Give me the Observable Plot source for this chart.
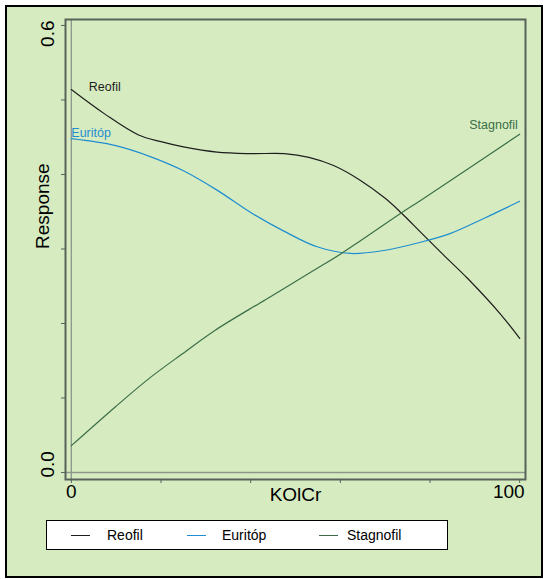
<!DOCTYPE html>
<html>
<head>
<meta charset="utf-8">
<script src="https://cdn.jsdelivr.net/npm/d3@7"></script>
<script src="https://cdn.jsdelivr.net/npm/@observablehq/plot@0.6"></script>
<style>
  html, body { margin: 0; padding: 0; background: #ffffff; }
  #wrap { position: relative; width: 544px; height: 579px; font-family: "Liberation Sans", Arial, sans-serif; }
  #panel { position: absolute; left: 5px; top: 5px; width: 538px; height: 573px; box-sizing: border-box; border: 2px solid #000; background: #d6ecc0; }
  #chart { position: absolute; left: 0; top: 0; }
  #legend { position: absolute; left: 46px; top: 520px; width: 402px; height: 30px; box-sizing: border-box; border: 1.5px solid #000; background: #fff; }
  .lg-line { position: absolute; top: 14px; width: 19px; height: 0; border-top: 1.2px solid #000; }
  .lg-text { position: absolute; top: 6px; font-size: 14px; line-height: 16px; color: #000; }
</style>
</head>
<body>
<div id="wrap">
  <div id="panel"></div>
  <div id="chart"></div>
  <div id="legend"></div>
</div>
<script>
// ---- data ----
const seriesNames = ["Reofil", "Euritóp", "Stagnofil"];
const seriesColors = ["#1e1e1e", "#1f8dd0", "#3b6e48"];

const reofilX = [0, 7.5, 15, 20, 25, 32.5, 40, 47.5, 53, 58.5, 64.5, 70, 73.5, 78, 83, 88.3, 95.8, 100];
const reofilY = [0.514, 0.481, 0.453, 0.444, 0.437, 0.430, 0.428, 0.428, 0.423, 0.412, 0.392, 0.368, 0.349, 0.322, 0.292, 0.261, 0.212, 0.180];

const euritopX = [0, 9.7, 17.6, 25, 32.5, 40, 47.4, 54.8, 62.3, 69.7, 77.9, 84.6, 92, 100];
const euritopY = [0.448, 0.439, 0.424, 0.405, 0.379, 0.349, 0.324, 0.303, 0.294, 0.298, 0.309, 0.321, 0.341, 0.364];

const stagnofilX = [0, 9.8, 17.3, 24.7, 32.1, 43.3, 54.3, 60, 64.5, 73.5, 77.9, 100];
const stagnofilY = [0.036, 0.088, 0.126, 0.159, 0.191, 0.232, 0.272, 0.293, 0.311, 0.348, 0.365, 0.454];

const yTicks = [0, 0.1, 0.2, 0.3, 0.4, 0.5, 0.6];
const yTickLabels = [0.0, 0.6];
const xTicks = [0, 20, 40, 60, 80, 100];
const xTickLabels = [0, 100];
const xLabel = "KOlCr";
const yLabel = "Response";

const curveLabelsStart = [
  {name: "Reofil", x: 3.9, y: 0.518},
  {name: "Euritóp", x: 0, y: 0.456}
];
const curveLabelsEnd = [
  {name: "Stagnofil", x: 99.6, y: 0.466}
];

// ---- build table ----
const rows = [];
[[reofilX, reofilY], [euritopX, euritopY], [stagnofilX, stagnofilY]].forEach(([xs, ys], i) => {
  xs.forEach((x, j) => rows.push({series: seriesNames[i], x, y: ys[j]}));
});

const axisColor = "#56625a";
const font = "Liberation Sans, Arial, sans-serif";

const plot = Plot.plot({
  width: 544,
  height: 510,
  marginLeft: 65,
  marginRight: 19,
  marginTop: 19,
  marginBottom: 31,
  style: {background: "transparent", fontFamily: font, overflow: "visible"},
  x: {domain: [-1.3, 101.3]},
  y: {domain: [-0.0094, 0.608]},
  color: {domain: seriesNames, range: seriesColors},
  marks: [
    Plot.ruleY([0], {stroke: "#8c968c", strokeWidth: 1.3}),
    Plot.ruleX([0], {stroke: "#8c968c", strokeWidth: 1.3}),
    Plot.line(rows, {x: "x", y: "y", z: "series", stroke: "series", strokeWidth: 1.2, curve: "catmull-rom"}),
    Plot.text(curveLabelsStart, {x: "x", y: "y", text: "name", fill: "name", textAnchor: "start", fontSize: 12.5}),
    Plot.text(curveLabelsEnd, {x: "x", y: "y", text: "name", fill: "name", textAnchor: "end", fontSize: 12.5}),
    Plot.frame({stroke: axisColor, strokeWidth: 2}),
    Plot.axisY({ticks: yTicks, tickSize: 4, tickFormat: () => "", label: null, stroke: axisColor}),
    Plot.axisX({ticks: xTicks, tickSize: 4, tickFormat: () => "", label: null, stroke: axisColor}),
    Plot.text([yTickLabels[1]], {y: d => d, frameAnchor: "left", dx: -18, dy: -5, rotate: -90, textAnchor: "end", text: d => d.toFixed(1), fontSize: 19, fill: "#000"}),
    Plot.text([yTickLabels[0]], {y: d => d, frameAnchor: "left", dx: -18, dy: 5, rotate: -90, textAnchor: "start", text: d => d.toFixed(1), fontSize: 19, fill: "#000"}),
    Plot.text([xTickLabels[0]], {x: d => d, frameAnchor: "bottom", dy: 18, textAnchor: "middle", text: d => String(d), fontSize: 19, fill: "#000"}),
    Plot.text([xTickLabels[1]], {x: d => d, frameAnchor: "bottom", dy: 18, dx: 5, textAnchor: "end", text: d => String(d), fontSize: 19, fill: "#000"}),
    Plot.text([xLabel], {x: 50, frameAnchor: "bottom", dy: 21, text: d => d, fontSize: 19, fill: "#000"}),
    Plot.text([yLabel], {y: 0.3, frameAnchor: "left", dx: -23, rotate: -90, text: d => d, fontSize: 19, fill: "#000"})
  ]
});
document.getElementById("chart").appendChild(plot);

// ---- legend ----
const legend = document.getElementById("legend");
const legendLineX = [24, 140, 272];
const legendTextX = [60, 175, 300];
seriesNames.forEach((name, i) => {
  const ln = document.createElement("div");
  ln.className = "lg-line";
  ln.style.left = legendLineX[i] + "px";
  ln.style.borderTopColor = seriesColors[i];
  legend.appendChild(ln);
  const tx = document.createElement("div");
  tx.className = "lg-text";
  tx.style.left = legendTextX[i] + "px";
  tx.textContent = name;
  legend.appendChild(tx);
});
</script>
</body>
</html>
